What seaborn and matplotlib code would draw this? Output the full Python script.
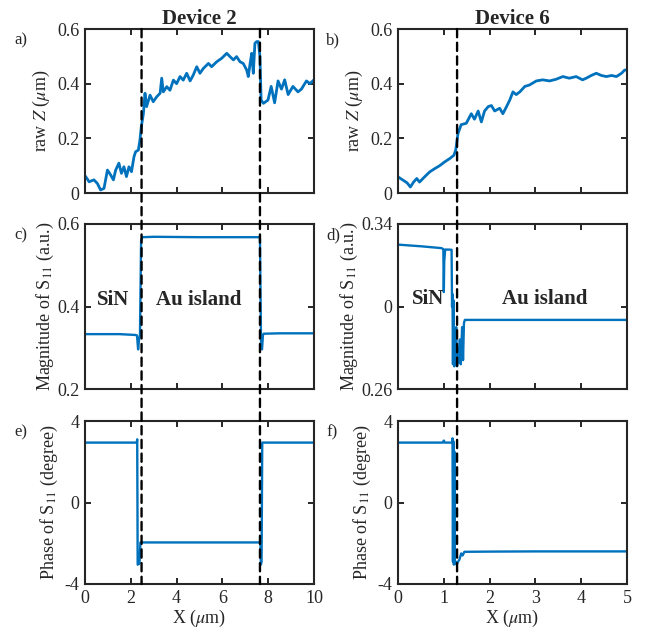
import numpy as np
import pandas as pd
import seaborn as sns
import matplotlib.pyplot as plt
from matplotlib.patches import ConnectionPatch

# raw Z profiles (um)
d2_z_x = [0.0, 0.03, 0.18, 0.39, 0.54, 0.68, 0.83, 0.98, 1.12, 1.24, 1.34, 1.48, 1.59, 1.70, 1.81, 1.92, 2.03,
          2.14, 2.21, 2.33, 2.40, 2.46, 2.55, 2.62, 2.69, 2.84, 2.98, 3.13, 3.28, 3.35, 3.42, 3.57, 3.71, 3.86,
          4.00, 4.15, 4.29, 4.44, 4.59, 4.73, 4.88, 5.02, 5.17, 5.39, 5.53, 5.75, 5.97, 6.19, 6.33, 6.48, 6.62,
          6.77, 6.91, 7.06, 7.13, 7.21, 7.28, 7.35, 7.42, 7.50, 7.57, 7.64, 7.69, 7.79, 7.99, 8.13, 8.28, 8.43,
          8.58, 8.72, 8.87, 9.08, 9.30, 9.45, 9.67, 9.82, 10.0]
d2_z = [0.062, 0.06, 0.041, 0.048, 0.035, 0.011, 0.017, 0.084, 0.066, 0.048, 0.084, 0.109, 0.072, 0.096, 0.06,
        0.096, 0.078, 0.133, 0.151, 0.157, 0.194, 0.243, 0.29, 0.365, 0.316, 0.358, 0.334, 0.352, 0.365, 0.42,
        0.37, 0.389, 0.376, 0.413, 0.40, 0.426, 0.413, 0.438, 0.41, 0.432, 0.462, 0.438, 0.456, 0.474, 0.462,
        0.48, 0.493, 0.511, 0.499, 0.487, 0.499, 0.48, 0.474, 0.45, 0.426, 0.474, 0.511, 0.438, 0.548, 0.554,
        0.554, 0.499, 0.34, 0.328, 0.34, 0.39, 0.33, 0.41, 0.38, 0.414, 0.36, 0.39, 0.37, 0.38, 0.41, 0.40, 0.414]

d6_z_x = [0.0, 0.11, 0.2, 0.27, 0.34, 0.41, 0.47, 0.58, 0.69, 0.8, 0.91, 1.02, 1.13, 1.22, 1.26, 1.31, 1.38, 1.49,
          1.6, 1.67, 1.75, 1.82, 1.89, 1.97, 2.04, 2.11, 2.22, 2.29, 2.37, 2.44, 2.51, 2.58, 2.66, 2.77, 2.87, 3.02,
          3.16, 3.31, 3.45, 3.6, 3.74, 3.89, 4.03, 4.11, 4.22, 4.33, 4.44, 4.55, 4.66, 4.77, 4.88, 4.95, 5.0]
d6_z = [0.059, 0.047, 0.037, 0.022, 0.04, 0.053, 0.04, 0.059, 0.077, 0.089, 0.10, 0.114, 0.126, 0.138, 0.157,
        0.218, 0.25, 0.255, 0.29, 0.27, 0.30, 0.26, 0.30, 0.316, 0.32, 0.30, 0.31, 0.29, 0.316, 0.34, 0.37, 0.36,
        0.37, 0.39, 0.395, 0.41, 0.414, 0.41, 0.416, 0.426, 0.42, 0.426, 0.414, 0.42, 0.43, 0.438, 0.43, 0.426,
        0.43, 0.426, 0.438, 0.45, 0.45]

# magnitude of S11 (a.u.)
d2_mag_x = [0.0, 1.5, 2.2, 2.27, 2.32, 2.36, 2.4, 2.45, 2.5, 3.0, 5.0, 7.0, 7.6, 7.64, 7.69, 7.73, 7.77, 7.8, 8.5,
            10.0]
d2_mag = [0.333, 0.333, 0.331, 0.330, 0.296, 0.320, 0.33, 0.56, 0.568, 0.569, 0.568, 0.568, 0.568, 0.565, 0.30,
          0.296, 0.33, 0.334, 0.335, 0.335]

d6_mag_x = [0.0, 0.5, 0.95, 0.99, 1.0, 1.01, 1.03, 1.1, 1.17, 1.18, 1.19, 1.2, 1.21, 1.22, 1.23, 1.24, 1.25, 1.27,
            1.29, 1.31, 1.33, 1.35, 1.37, 1.4, 1.42, 1.44, 1.46, 1.5, 2.0, 3.0, 4.0, 5.0]
d6_mag = [0.330, 0.3292, 0.3283, 0.3278, 0.307, 0.322, 0.3276, 0.3276, 0.3275, 0.300, 0.306, 0.272, 0.303, 0.285,
          0.271, 0.283, 0.274, 0.290, 0.271, 0.280, 0.273, 0.284, 0.272, 0.290, 0.274, 0.292, 0.2935, 0.2935,
          0.2935, 0.2935, 0.2935, 0.2935]

# phase of S11 (degree)
d2_ph_x = [0.0, 2.26, 2.28, 2.3, 2.38, 2.42, 5.0, 7.66, 7.68, 7.71, 7.74, 8.5, 10.0]
d2_ph = [2.94, 2.94, 3.1, -3.05, -3.0, -1.96, -1.96, -1.96, -3.05, -2.9, 2.94, 2.94, 2.94]

d6_ph_x = [0.0, 0.98, 1.0, 1.02, 1.18, 1.19, 1.2, 1.21, 1.22, 1.23, 1.24, 1.26, 1.28, 1.3, 1.34, 1.38, 1.41, 1.45,
           2.0, 3.0, 4.0, 5.0]
d6_ph = [2.94, 2.94, 3.04, 2.94, 2.94, 3.15, -2.9, 3.0, -3.05, 2.5, -3.0, -2.9, -3.05, -2.95, -2.8, -2.5, -2.6,
         -2.42, -2.41, -2.4, -2.4, -2.4]

# interface positions (um)
d2_edges = [2.47, 7.64]
d6_edges = [1.29]

blue = '#0072BD'
dark = '#262626'

sns.set_style('ticks')
plt.rcParams['font.family'] = ['Liberation Serif', 'DejaVu Serif']
plt.rcParams['mathtext.fontset'] = 'stix'

fig = plt.figure(figsize=(6.47, 6.32), dpi=100)
cols = [85 / 647, 398 / 647]
rows = [1 - 193 / 632, 1 - 389 / 632, 1 - 584 / 632]
heights = [164 / 632, 165 / 632, 163 / 632]
w = 229 / 647
axes = [[fig.add_axes([cols[c], rows[r], w, heights[r]]) for c in range(2)] for r in range(3)]

curves = [[(d2_z_x, d2_z), (d6_z_x, d6_z)],
          [(d2_mag_x, d2_mag), (d6_mag_x, d6_mag)],
          [(d2_ph_x, d2_ph), (d6_ph_x, d6_ph)]]

for r in range(3):
    for c in range(2):
        ax = axes[r][c]
        xs, ys = curves[r][c]
        sns.lineplot(x=xs, y=ys, ax=ax, color=blue, lw=2.0 if r == 0 else 1.7, estimator=None, sort=False)
        ax.set_xlim(0, 10 if c == 0 else 5)
        ax.set_xticks(range(0, 11, 2) if c == 0 else range(0, 6))
        ax.tick_params(direction='in', length=4.5, width=1.4, top=True, right=True,
                       labelsize=13, colors=dark, pad=4)
        for s in ax.spines.values():
            s.set_linewidth(1.5)
            s.set_color(dark)
        if r < 2:
            ax.set_xticklabels([])
        else:
            ax.set_xlabel(r'X ($\mu$m)', fontsize=13, color=dark, labelpad=1)

# y axes
for c in range(2):
    axes[0][c].set_ylim(0, 0.6)
    axes[0][c].set_yticks([0, 0.2, 0.4, 0.6], ['0', '0.2', '0.4', '0.6'])
    axes[0][c].set_ylabel(r'raw $Z$ ($\mu$m)', fontsize=13, color=dark, labelpad=4)
    axes[1][c].set_ylabel(r'Magnitude of S$_{11}$ (a.u.)', fontsize=13, color=dark, labelpad=1)
    axes[2][c].set_ylim(-4, 4)
    axes[2][c].set_yticks([-4, 0, 4], ['-4', '0', '4'])
    axes[2][c].set_ylabel(r'Phase of S$_{11}$ (degree)', fontsize=13, color=dark, labelpad=3)

axes[1][0].set_ylim(0.2, 0.6)
axes[1][0].set_yticks([0.2, 0.4, 0.6], ['0.2', '0.4', '0.6'])
axes[1][1].set_ylim(0.26, 0.34)
axes[1][1].set_yticks([0.26, 0.30, 0.34], ['0.26', '0', '0.34'])

axes[0][0].set_title('Device 2', fontsize=15, fontweight='bold', pad=3)
axes[0][1].set_title('Device 6', fontsize=15, fontweight='bold', pad=3)

axes[1][0].text(1.24, 0.416, 'SiN', fontsize=15, fontweight='bold', ha='center', va='center')
axes[1][0].text(4.98, 0.416, 'Au island', fontsize=15, fontweight='bold', ha='center', va='center')
axes[1][1].text(0.65, 0.3035, 'SiN', fontsize=15, fontweight='bold', ha='center', va='center')
axes[1][1].text(3.2, 0.3035, 'Au island', fontsize=15, fontweight='bold', ha='center', va='center')

for r, lab in enumerate(['a)', 'c)', 'e)']):
    fig.text(14 / 647, rows[r] + heights[r] - 15 / 632, lab, fontsize=12, color=dark)
for r, lab in enumerate(['b)', 'd)', 'f)']):
    fig.text(326 / 647, rows[r] + heights[r] - 15 / 632, lab, fontsize=12, color=dark)

# dashed interface lines spanning all three rows
for c, edges in enumerate([d2_edges, d6_edges]):
    for xe in edges:
        con = ConnectionPatch(xyA=(xe, 1), coordsA=axes[0][c].get_xaxis_transform(),
                              xyB=(xe, 0), coordsB=axes[2][c].get_xaxis_transform(),
                              color='black', lw=1.7, linestyle=(0, (3.5, 2.3)), zorder=5)
        fig.add_artist(con)

plt.savefig('out.png', dpi=100)
